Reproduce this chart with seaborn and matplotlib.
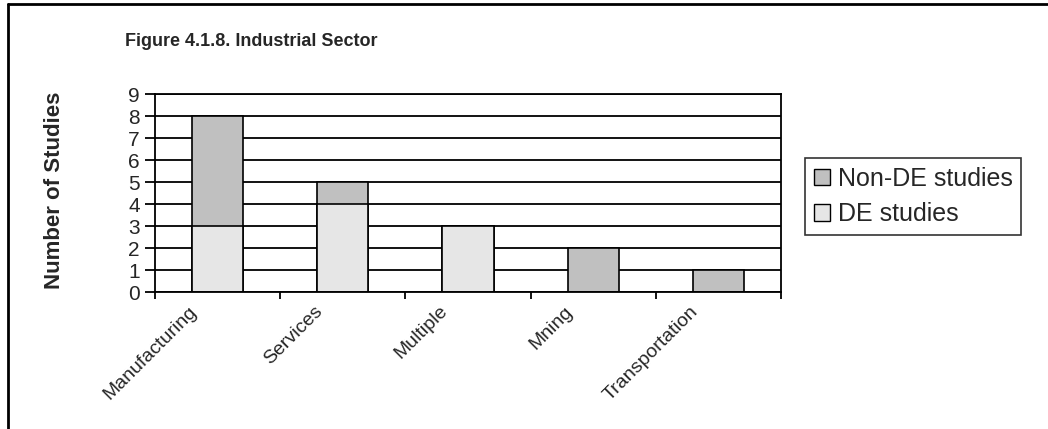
import matplotlib
matplotlib.use("Agg")
import matplotlib.pyplot as plt
import matplotlib.transforms as mtransforms
from matplotlib.lines import Line2D
from matplotlib.patches import Patch
import seaborn as sns

# data
sectors = ["Manufacturing", "Services", "Multiple", "Mining", "Transportation"]
tick_labels = ["Manufacturing", "Services", "Multiple", "Mning", "Transportation"]
de_studies = [3, 4, 3, 0, 0]
non_de_studies = [5, 1, 0, 2, 1]
totals = [a + b for a, b in zip(de_studies, non_de_studies)]

DE_COLOR = "#E6E6E6"
NON_DE_COLOR = "#C0C0C0"

sns.set_theme(style="white")
plt.rcParams["font.family"] = ["Liberation Sans", "DejaVu Sans"]

fig = plt.figure(figsize=(10.48, 4.29), dpi=100)
ax = fig.add_axes([155 / 1048, 1 - 292 / 429, 626 / 1048, 198 / 429])

# totals in the Non-DE colour, DE part drawn over them -> stacked look
sns.barplot(x=sectors, y=totals, color=NON_DE_COLOR, saturation=1,
            width=0.41, edgecolor="black", linewidth=1.2, ax=ax)
sns.barplot(x=sectors, y=de_studies, color=DE_COLOR, saturation=1,
            width=0.41, edgecolor="black", linewidth=1.2, ax=ax)

ax.set_xlim(-0.5, len(sectors) - 0.5)
ax.set_ylim(0, 9)
ax.set_yticks(range(10))
ax.yaxis.grid(True, color="black", linewidth=1.3)
ax.set_axisbelow(True)
for side in ax.spines.values():
    side.set_color("black")
    side.set_linewidth(1.3)

ax.set_xlabel("")
ax.set_ylabel("")

# tick marks between categories, labels at the centres
ax.set_xticks([i - 0.5 for i in range(len(sectors) + 1)])
ax.set_xticklabels([])
ax.set_xticks(range(len(sectors)), tick_labels, minor=True)
ax.tick_params(axis="x", which="major", direction="out", length=5,
               width=1.3, color="black", bottom=True)
ax.tick_params(axis="x", which="minor", length=0, pad=2, labelsize=14)
ax.tick_params(axis="y", direction="out", length=7, width=1.3,
               color="black", left=True, labelsize=15, pad=4)

shift = mtransforms.ScaledTranslation(-0.23, -0.14, fig.dpi_scale_trans)
for lab in ax.get_xticklabels(minor=True):
    lab.set_rotation(45)
    lab.set_rotation_mode("anchor")
    lab.set_ha("right")
    lab.set_va("center")
    lab.set_transform(lab.get_transform() + shift)

fig.text(125 / 1048, 1 - 46 / 429, "Figure 4.1.8. Industrial Sector",
         fontsize=13, fontweight="bold", ha="left", va="baseline")
fig.text(55 / 1048, 1 - 190 / 429, "Number of Studies", fontsize=16,
         fontweight="bold", rotation=90, ha="center", va="center")

handles = [Patch(facecolor=NON_DE_COLOR, edgecolor="black", label="Non-DE studies"),
           Patch(facecolor=DE_COLOR, edgecolor="black", label="DE studies")]
leg = fig.legend(handles=handles, loc="upper left",
                 bbox_to_anchor=(805 / 1048, 1 - 158 / 429), fontsize=18,
                 frameon=True, fancybox=False, edgecolor="black",
                 handlelength=0.65, handleheight=0.65, handletextpad=0.3,
                 borderpad=0.35, labelspacing=0.45, borderaxespad=0)
leg.get_frame().set_linewidth(1.2)

# outer frame of the figure (left and top edges visible)
fig.add_artist(Line2D([8 / 1048, 8 / 1048], [0, 1 - 4 / 429],
                      transform=fig.transFigure, color="black", lw=2))
fig.add_artist(Line2D([8 / 1048, 1], [1 - 4 / 429, 1 - 4 / 429],
                      transform=fig.transFigure, color="black", lw=2))

fig.savefig("out.png", dpi=100)
